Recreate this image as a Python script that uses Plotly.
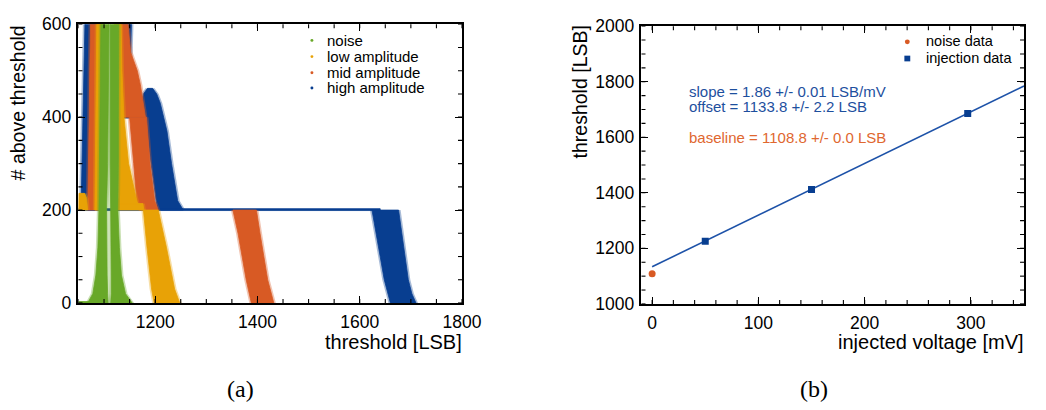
import plotly.graph_objects as go

W, H = 1046, 410

# ---------------- colours ----------------
C_NOISE = "#68a828"
C_LOW = "#e8a206"
C_MID = "#d85a24"
C_HIGH = "#083e90"
C_TXT_BLUE = "#1d4f9e"
C_TXT_ORANGE = "#e0672f"

# ---------------- panel (a): hit counts vs threshold ----------------
# each band: rows of (count, threshold at left edge, threshold at right edge)
NOISE_BASE = [(0, 1050, 1076), (3, 1050, 1076)]
NOISE_RISE = [(0, 1068, 1108), (20, 1078, 1107), (60, 1084, 1106), (120, 1088, 1105),
              (200, 1090, 1105), (300, 1091, 1107), (400, 1092, 1108), (500, 1093, 1109),
              (620, 1094, 1110)]
NOISE_FALL = [(0, 1113, 1155), (20, 1114, 1142), (60, 1114, 1134), (120, 1114, 1130),
              (200, 1113, 1127), (300, 1112, 1128), (400, 1112, 1128), (500, 1112, 1128),
              (620, 1112, 1129)]

LOW_SHELF_L = [(200, 1050, 1068), (225, 1050, 1066), (236, 1051, 1062)]
LOW_RISE = [(200, 1082, 1096), (300, 1083, 1097), (400, 1084, 1097), (500, 1085, 1098),
            (620, 1086, 1098)]
LOW_FALL = [(205, 1125, 1168), (230, 1128, 1162), (300, 1128, 1148), (400, 1123, 1139),
            (500, 1121, 1135), (620, 1120, 1133)]
LOW_SHELF_R = [(200, 1125, 1178), (214, 1125, 1176)]
LOW_DROP = [(0, 1198, 1248), (30, 1193, 1238), (120, 1184, 1222), (200, 1177, 1206)]

MID_RISE = [(200, 1068, 1090), (300, 1070, 1091), (400, 1071, 1092), (500, 1072, 1093),
            (620, 1074, 1094)]
MID_FALL = [(400, 1128, 1181), (430, 1130, 1176), (470, 1134, 1171), (500, 1131, 1165),
            (540, 1127, 1152), (620, 1123, 1145)]
MID_STEP = [(200, 1168, 1206), (220, 1164, 1199), (300, 1158, 1190), (400, 1150, 1183)]
MID_DROP = [(0, 1388, 1432), (50, 1378, 1420), (100, 1370, 1413), (150, 1362, 1405),
            (200, 1352, 1398)]

HIGH_RISE = [(200, 1055, 1082), (300, 1057, 1083), (400, 1059, 1084), (500, 1061, 1085),
             (620, 1063, 1086)]
HIGH_FALL = [(470, 1132, 1148), (540, 1129, 1152), (620, 1127, 1154)]
HIGH_SHELF = [(398, 1130, 1178), (405, 1130, 1178)]
HIGH_STEP = [(200, 1205, 1255), (220, 1202, 1244), (300, 1192, 1232), (370, 1184, 1223),
             (400, 1176, 1216), (430, 1173, 1210), (450, 1177, 1203), (462, 1185, 1195)]
HIGH_LINE = [(199, 1050, 1640), (203, 1050, 1640)]
HIGH_DROP = [(0, 1660, 1710), (20, 1655, 1702), (50, 1648, 1695), (100, 1640, 1688),
             (150, 1632, 1682), (200, 1624, 1676)]

SERIES_NAMES = ["noise", "low amplitude", "mid amplitude", "high amplitude"]
SERIES_COLORS = [C_NOISE, C_LOW, C_MID, C_HIGH]
SERIES_BANDS = [
    [NOISE_BASE, NOISE_RISE, NOISE_FALL],
    [LOW_SHELF_L, LOW_RISE, LOW_FALL, LOW_SHELF_R, LOW_DROP],
    [MID_RISE, MID_FALL, MID_STEP, MID_DROP],
    [HIGH_RISE, HIGH_FALL, HIGH_SHELF, HIGH_STEP, HIGH_LINE, HIGH_DROP],
]

# ---------------- panel (b): threshold calibration ----------------
NOISE_V = [0]
NOISE_THR = [1108.8]
INJ_V = [50, 150, 297]
INJ_THR = [1226, 1412, 1686]
FIT_SLOPE = 1.86
FIT_OFFSET = 1133.8
FIT_V = [0, 350]


def band_outline(rows, pad=0.0):
    ys = [r[0] for r in rows]
    xl = [r[1] - pad for r in rows]
    xr = [r[2] + pad for r in rows]
    x = xl + xr[::-1] + [xl[0]]
    y = ys + ys[::-1] + [ys[0]]
    return x, y


fig = go.Figure()

# the clouds are painted from the widest signal backwards so the noise peak sits on top
for name, color, bands in reversed(list(zip(SERIES_NAMES, SERIES_COLORS, SERIES_BANDS))):
    for rows in bands:
        thin = rows[-1][0] - rows[0][0] < 10
        if not thin:
            hx, hy = band_outline(rows, pad=4)
            fig.add_trace(go.Scatter(
                x=hx, y=hy, mode="lines", fill="toself", fillcolor=color, opacity=0.35,
                line=dict(width=0), hoverinfo="skip", showlegend=False,
                xaxis="x", yaxis="y"))
        bx, by = band_outline(rows)
        fig.add_trace(go.Scatter(
            x=bx, y=by, mode="lines", fill="toself", fillcolor=color,
            line=dict(color=color, width=0.8), hoverinfo="skip",
            showlegend=False, name=name, xaxis="x", yaxis="y"))

fit_thr = [FIT_OFFSET + FIT_SLOPE * v for v in FIT_V]
fig.add_trace(go.Scatter(x=FIT_V, y=fit_thr, mode="lines",
                         line=dict(color="#1d52a8", width=1.6),
                         showlegend=False, xaxis="x2", yaxis="y2"))
fig.add_trace(go.Scatter(x=NOISE_V, y=NOISE_THR, mode="markers",
                         marker=dict(symbol="circle", size=7, color=C_MID),
                         showlegend=False, xaxis="x2", yaxis="y2"))
fig.add_trace(go.Scatter(x=INJ_V, y=INJ_THR, mode="markers",
                         marker=dict(symbol="square", size=7, color=C_HIGH),
                         showlegend=False, xaxis="x2", yaxis="y2"))

FONT = "Liberation Sans, Arial, Helvetica, sans-serif"
SERIF = "Liberation Serif, DejaVu Serif, serif"


def px_x(px):
    return px / W


def px_y(py):
    return 1 - py / H


major = dict(showline=True, linecolor="black", linewidth=1.6, mirror="allticks",
             ticks="inside", tickcolor="black", ticklen=7, tickwidth=1.3,
             showgrid=False, zeroline=False,
             tickfont=dict(family=FONT, size=17.5, color="black"))

XA_DOM = [px_x(80), px_x(471)]
YA_DOM = [px_y(308), px_y(15)]
XB_DOM = [px_x(654), px_x(1044)]
YB_DOM = [px_y(309), px_y(17)]
XA_RANGE, YA_RANGE = [1050, 1800], [0, 600]
XB_RANGE, YB_RANGE = [-10, 350], [1000, 2000]

fig.update_layout(
    width=W, height=H, margin=dict(l=0, r=0, t=0, b=0),
    paper_bgcolor="white", plot_bgcolor="white",
    xaxis=dict(major, domain=XA_DOM, range=XA_RANGE, tick0=1200, dtick=200, anchor="y",
               ticklabelstandoff=2),
    yaxis=dict(major, domain=YA_DOM, range=YA_RANGE, tick0=0, dtick=200, anchor="x",
               ticklabelstandoff=2),
    xaxis2=dict(major, domain=XB_DOM, range=XB_RANGE, tick0=0, dtick=100, anchor="y2",
                ticklabelstandoff=2),
    yaxis2=dict(major, domain=YB_DOM, range=YB_RANGE, tick0=1000, dtick=200, anchor="x2",
                ticklabelstandoff=2),
)

shapes = []


def minor_ticks(xref, yref, xrange, xstep, yrange, ystep, length=4):
    """Short inward ticks on all four sides of one frame."""
    tick_line = dict(color="black", width=1.1)
    v = xrange[0] - xrange[0] % xstep
    while v <= xrange[1]:
        if v >= xrange[0]:
            for anchor, y1 in ((0, length), (1, -length)):
                shapes.append(dict(type="line", xref=xref, yref=yref + " domain",
                                   x0=v, x1=v, ysizemode="pixel", yanchor=anchor,
                                   y0=0, y1=y1, line=tick_line, layer="above"))
        v += xstep
    v = yrange[0] - yrange[0] % ystep
    while v <= yrange[1]:
        if v >= yrange[0]:
            for anchor, x1 in ((0, length), (1, -length)):
                shapes.append(dict(type="line", xref=xref + " domain", yref=yref,
                                   y0=v, y1=v, xsizemode="pixel", xanchor=anchor,
                                   x0=0, x1=x1, line=tick_line, layer="above"))
        v += ystep


minor_ticks("x", "y", XA_RANGE, 50, YA_RANGE, 50)
minor_ticks("x2", "y2", XB_RANGE, 20, YB_RANGE, 50)

annotations = []


def text(px, py, s, size=14, color="black", xanchor="left", yanchor="middle",
         angle=0, family=FONT):
    annotations.append(dict(
        x=px_x(px), y=px_y(py), xref="paper", yref="paper", text=s, showarrow=False,
        xanchor=xanchor, yanchor=yanchor, textangle=angle, borderpad=0, borderwidth=0,
        font=dict(family=family, size=size, color=color)))


# axis titles
text(18, 16, "# above threshold", size=19.5, xanchor="center", yanchor="top", angle=-90)
text(471, 349, "threshold [LSB]", size=20, xanchor="right")
text(591, 16, "threshold [LSB]", size=19.5, xanchor="center", yanchor="top", angle=-90)
text(1044, 349, "injected voltage [mV]", size=20, xanchor="right")

# legend of panel (a)
LEG_A_Y = [32, 49, 66, 82]
for name, color, ly in zip(SERIES_NAMES, SERIES_COLORS, LEG_A_Y):
    shapes.append(dict(type="circle", xref="paper", yref="paper",
                       x0=px_x(316.5), x1=px_x(319.5), y0=px_y(ly + 1.5), y1=px_y(ly - 1.5),
                       fillcolor=color, line=dict(width=0)))
    text(333, ly, name, size=15)

# legend of panel (b)
shapes.append(dict(type="circle", xref="paper", yref="paper",
                   x0=px_x(922.5), x1=px_x(927.5), y0=px_y(36), y1=px_y(31),
                   fillcolor=C_MID, line=dict(width=0)))
shapes.append(dict(type="rect", xref="paper", yref="paper",
                   x0=px_x(922), x1=px_x(928), y0=px_y(54), y1=px_y(48),
                   fillcolor=C_HIGH, line=dict(width=0)))
text(944, 33, "noise data", size=14.5)
text(944, 50, "injection data", size=14.5)

# fit results
text(702, 86, f"slope = {FIT_SLOPE:.2f} +/- 0.01 LSB/mV", size=15, color=C_TXT_BLUE)
text(702, 101, f"offset = {FIT_OFFSET:.1f} +/- 2.2 LSB", size=15, color=C_TXT_BLUE)
text(702, 134, f"baseline = {NOISE_THR[0]:.1f} +/- 0.0 LSB", size=15, color=C_TXT_ORANGE)

# panel captions
text(245, 398, "(a)", size=24, xanchor="center", family=SERIF)
text(830, 398, "(b)", size=24, xanchor="center", family=SERIF)

fig.update_layout(annotations=annotations, shapes=shapes)

fig.write_html("out.html")
